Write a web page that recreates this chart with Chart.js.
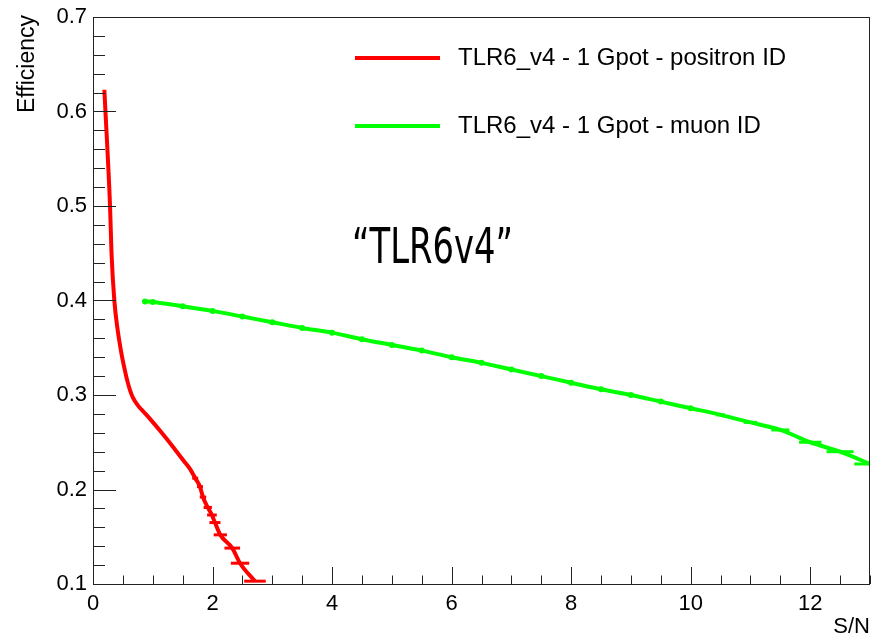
<!DOCTYPE html>
<html>
<head>
<meta charset="utf-8">
<script src="https://cdn.jsdelivr.net/npm/chart.js@4"></script>
<style>
  html, body { margin: 0; padding: 0; background: #fff; }
  #wrap { width: 872px; height: 635px; }
</style>
</head>
<body>
<div id="wrap"><canvas id="effChart" width="872" height="635"></canvas></div>
<script>
// ---- data ----
const positronX = [0.19, 0.21, 0.25, 0.285, 0.31, 0.357, 0.41, 0.47, 0.52, 0.57, 0.62, 0.67, 0.75, 0.85, 0.95, 1.15, 1.34, 1.51,
                   1.62, 1.71, 1.79, 1.84, 1.92, 1.99, 2.04, 2.13, 2.33, 2.46, 2.71];
const positronY = [0.623, 0.598, 0.549, 0.500, 0.450, 0.400, 0.370, 0.346, 0.330, 0.316, 0.305, 0.297, 0.289, 0.282, 0.275, 0.260, 0.245, 0.231,
                   0.222, 0.212, 0.203, 0.192, 0.181, 0.173, 0.165, 0.152, 0.138, 0.122, 0.103];

const muonX = [0.87, 1.0, 1.5, 2.0, 2.5, 3.0, 3.5, 4.0, 4.5, 5.0, 5.5, 6.0, 6.5, 7.0, 7.5, 8.0, 8.5, 9.0, 9.5,
               10.0, 10.5, 11.0, 11.5, 12.0, 12.5, 13.0];
const muonY = [0.399, 0.3985, 0.394, 0.389, 0.383, 0.377, 0.371, 0.366, 0.359, 0.353, 0.347, 0.340, 0.334, 0.327, 0.320,
               0.313, 0.306, 0.300, 0.293, 0.286, 0.279, 0.271, 0.263, 0.250, 0.240, 0.227];

const xTicks = [0, 2, 4, 6, 8, 10, 12];
const yTicks = [0.1, 0.2, 0.3, 0.4, 0.5, 0.6, 0.7];

const seriesNames = ["TLR6_v4 - 1 Gpot - positron ID", "TLR6_v4 - 1 Gpot - muon ID"];
const seriesColors = ["#ff0000", "#00ff00"];

const toPoints = (xs, ys) => xs.map((x, i) => ({ x, y: ys[i] }));

Chart.defaults.font.family = '"Liberation Sans", Arial, sans-serif';
Chart.defaults.color = '#000';

/* ---- ROOT-like frame with inward ticks ---- */
const framePlugin = {
    id: 'frame',
    afterDatasetsDraw(chart) {
        const { ctx, chartArea: a, scales } = chart;
        const xs = scales.x, ys = scales.y;
        ctx.save();
        ctx.strokeStyle = '#222';
        ctx.lineWidth = 1;
        ctx.strokeRect(a.left + 0.5, a.top + 0.5, a.right - a.left - 1, a.bottom - a.top);

        ctx.beginPath();
        for (let v = 0; v <= 13.001; v += 0.5) {
            const px = Math.round(xs.getPixelForValue(v)) + 0.5;
            const len = Math.abs(v % 2) < 1e-6 ? 17 : 8.5;
            ctx.moveTo(px, a.bottom);
            ctx.lineTo(px, a.bottom - len);
        }
        for (let v = 0.1; v <= 0.7001; v += 0.02) {
            const py = Math.round(ys.getPixelForValue(v)) + 0.5;
            const major = Math.abs(Math.round(v * 10) - v * 10) < 1e-6;
            ctx.moveTo(a.left, py);
            ctx.lineTo(a.left + (major ? 23 : 12), py);
        }
        ctx.stroke();
        ctx.restore();
    },
    afterDraw(chart) {
        const { ctx, chartArea: a } = chart;
        ctx.save();

        // legend
        ctx.font = '24px "Liberation Sans", Arial, sans-serif';
        ctx.textBaseline = 'middle';
        ctx.textAlign = 'left';
        [58, 126].forEach((y, i) => {
            ctx.strokeStyle = seriesColors[i];
            ctx.lineWidth = 4;
            ctx.beginPath();
            ctx.moveTo(355, y);
            ctx.lineTo(440, y);
            ctx.stroke();
            ctx.fillStyle = '#000';
            ctx.fillText(seriesNames[i], 458, y);
        });

        // axis titles
        ctx.font = '22px "Liberation Sans", Arial, sans-serif';
        ctx.textAlign = 'right';
        ctx.textBaseline = 'alphabetic';
        ctx.fillText('S/N', a.right, 633);

        ctx.font = '23px "Liberation Sans", Arial, sans-serif';
        ctx.translate(34, 15);
        ctx.rotate(-Math.PI / 2);
        ctx.fillText('Efficiency', 0, 0);
        ctx.setTransform(1, 0, 0, 1, 0, 0);

        // annotation
        ctx.font = '49px "DejaVu Sans Condensed", "DejaVu Sans", sans-serif';
        ctx.textAlign = 'left';
        ctx.textBaseline = 'alphabetic';
        const label = '\u201CTLR6v4\u201D';
        const w = ctx.measureText(label).width;
        ctx.translate(352, 263);
        ctx.scale(161 / w, 1);
        ctx.fillText(label, 0, 0);
        ctx.restore();
    }
};

const noPad = s => { s.paddingLeft = 0; s.paddingRight = 0; s.paddingTop = 0; s.paddingBottom = 0; };

new Chart(document.getElementById('effChart'), {
    type: 'scatter',
    data: {
        datasets: [
            {
                label: seriesNames[0],
                data: toPoints(positronX, positronY),
                showLine: true,
                borderColor: seriesColors[0],
                backgroundColor: seriesColors[0],
                borderWidth: 4,
                cubicInterpolationMode: 'monotone',
                pointStyle: 'line',
                pointBorderWidth: 3,
                pointRadius: c => (c.raw && c.raw.y < 0.215) ? Math.max(3, (0.23 - c.raw.y) * 85) : 0
            },
            {
                label: seriesNames[1],
                data: toPoints(muonX, muonY),
                showLine: true,
                borderColor: seriesColors[1],
                backgroundColor: seriesColors[1],
                borderWidth: 4,
                cubicInterpolationMode: 'monotone',
                pointStyle: c => (c.raw && c.raw.x > 10.2) ? 'line' : 'circle',
                pointBorderWidth: c => (c.raw && c.raw.x > 10.2) ? 3 : 0,
                pointRadius: c => (c.raw && c.raw.x > 10.2) ? (c.raw.x - 9.5) * 4.5 : 3
            }
        ]
    },
    options: {
        responsive: false,
        animation: false,
        events: [],
        layout: { autoPadding: false, padding: { top: 17, right: 2, left: 0, bottom: 0 } },
        plugins: {
            legend: { display: false },
            tooltip: { enabled: false }
        },
        scales: {
            x: {
                type: 'linear',
                min: 0,
                max: 13,
                grid: { display: false, drawTicks: false },
                border: { display: false },
                afterBuildTicks: s => { s.ticks = xTicks.map(v => ({ value: v })); },
                afterFit: s => { s.height = 51; noPad(s); },
                ticks: { font: { size: 22 }, padding: 7, maxRotation: 0, color: '#000' }
            },
            y: {
                type: 'linear',
                min: 0.1,
                max: 0.7,
                grid: { display: false, drawTicks: false },
                border: { display: false },
                afterBuildTicks: s => { s.ticks = yTicks.map(v => ({ value: v })); },
                afterFit: s => { s.width = 93; noPad(s); },
                ticks: { font: { size: 22 }, padding: 6, color: '#000', callback: v => v.toFixed(1) }
            }
        }
    },
    plugins: [framePlugin]
});
</script>
</body>
</html>
